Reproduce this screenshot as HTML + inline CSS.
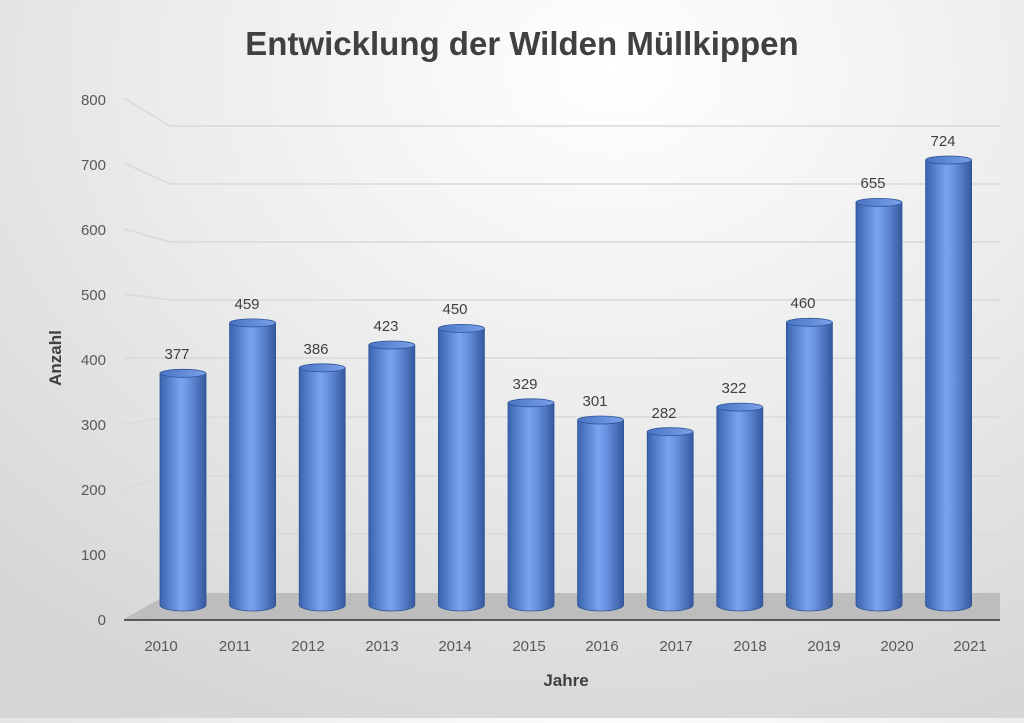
<!DOCTYPE html>
<html><head><meta charset="utf-8"><style>
html,body{margin:0;padding:0;}
body{width:1024px;height:718px;overflow:hidden;background:radial-gradient(ellipse 900px 700px at 60% 10%,#ffffff 0%,#eeeeee 45%,#d6d6d6 100%);font-family:"Liberation Sans",sans-serif;}
</style></head><body>
<svg width="1024" height="718" viewBox="0 0 1024 718" xmlns="http://www.w3.org/2000/svg" font-family="Liberation Sans, sans-serif">
<defs>
<linearGradient id="cyl" x1="0" x2="1" y1="0" y2="0">
<stop offset="0" stop-color="#3a63ad"/>
<stop offset="0.45" stop-color="#7aa3ef"/>
<stop offset="0.6" stop-color="#6b95e4"/>
<stop offset="1" stop-color="#36599e"/>
</linearGradient>
<linearGradient id="top" x1="0" x2="1"><stop offset="0" stop-color="#4a74c4"/><stop offset="1" stop-color="#7aa2ea"/></linearGradient>
<g id="c">
<path d="M-23,0 L-23,1 A23,6 0 0 0 23,1 L23,0 Z" fill="url(#cyl)"/>
</g>
</defs>
<text x="522" y="55" text-anchor="middle" font-size="33" font-weight="bold" fill="#404040">Entwicklung der Wilden Müllkippen</text>
<g stroke="#d9d9d9" stroke-width="1.5" fill="none">
<polyline points="124,98 170,126 1000,126"/>
<polyline points="124,163 170,184 1000,184"/>
<polyline points="124,229 170,242 1000,242"/>
<polyline points="124,294 170,300 1000,300"/>
<polyline points="124,358 170,358 1000,358"/>
<polyline points="124,424 170,417 1000,417"/>
<polyline points="124,489 170,476 1000,476"/>
<polyline points="124,554 170,534 1000,534"/>
</g>
<polygon points="124,619 170,593 1000,593 1000,619" fill="#bdbdbd"/>
<line x1="124" y1="620" x2="1000" y2="620" stroke="#595959" stroke-width="2"/>
<g font-size="15" fill="#595959" text-anchor="end">
<text x="106" y="105">800</text><text x="106" y="170">700</text><text x="106" y="235">600</text><text x="106" y="300">500</text><text x="106" y="365">400</text><text x="106" y="430">300</text><text x="106" y="495">200</text><text x="106" y="560">100</text><text x="106" y="625">0</text>
</g>
<text transform="translate(61,358) rotate(-90)" text-anchor="middle" font-size="17" font-weight="bold" fill="#404040">Anzahl</text>
<text x="566" y="686" text-anchor="middle" font-size="17" font-weight="bold" fill="#404040">Jahre</text>
<g font-size="15" fill="#595959" text-anchor="middle">
<text x="161" y="651">2010</text><text x="235" y="651">2011</text><text x="308" y="651">2012</text><text x="382" y="651">2013</text><text x="455" y="651">2014</text><text x="529" y="651">2015</text><text x="602" y="651">2016</text><text x="676" y="651">2017</text><text x="750" y="651">2018</text><text x="824" y="651">2019</text><text x="897" y="651">2020</text><text x="970" y="651">2021</text>
</g>
<g stroke="#2f5597" stroke-width="0.8">
<path d="M160,373.3 L160,605 A23,6 0 0 0 206,605 L206,373.3 Z" fill="url(#cyl)"/><ellipse cx="183" cy="373.3" rx="23" ry="4" fill="url(#top)"/>
<path d="M229.6,322.9 L229.6,605 A23,6 0 0 0 275.6,605 L275.6,322.9 Z" fill="url(#cyl)"/><ellipse cx="252.6" cy="322.9" rx="23" ry="4" fill="url(#top)"/>
<path d="M299.2,367.8 L299.2,605 A23,6 0 0 0 345.2,605 L345.2,367.8 Z" fill="url(#cyl)"/><ellipse cx="322.2" cy="367.8" rx="23" ry="4" fill="url(#top)"/>
<path d="M368.8,345 L368.8,605 A23,6 0 0 0 414.8,605 L414.8,345 Z" fill="url(#cyl)"/><ellipse cx="391.8" cy="345" rx="23" ry="4" fill="url(#top)"/>
<path d="M438.4,328.4 L438.4,605 A23,6 0 0 0 484.4,605 L484.4,328.4 Z" fill="url(#cyl)"/><ellipse cx="461.4" cy="328.4" rx="23" ry="4" fill="url(#top)"/>
<path d="M508,402.8 L508,605 A23,6 0 0 0 554,605 L554,402.8 Z" fill="url(#cyl)"/><ellipse cx="531" cy="402.8" rx="23" ry="4" fill="url(#top)"/>
<path d="M577.6,420 L577.6,605 A23,6 0 0 0 623.6,605 L623.6,420 Z" fill="url(#cyl)"/><ellipse cx="600.6" cy="420" rx="23" ry="4" fill="url(#top)"/>
<path d="M647.2,431.7 L647.2,605 A23,6 0 0 0 693.2,605 L693.2,431.7 Z" fill="url(#cyl)"/><ellipse cx="670.2" cy="431.7" rx="23" ry="4" fill="url(#top)"/>
<path d="M716.8,407.1 L716.8,605 A23,6 0 0 0 762.8,605 L762.8,407.1 Z" fill="url(#cyl)"/><ellipse cx="739.8" cy="407.1" rx="23" ry="4" fill="url(#top)"/>
<path d="M786.4,322.3 L786.4,605 A23,6 0 0 0 832.4,605 L832.4,322.3 Z" fill="url(#cyl)"/><ellipse cx="809.4" cy="322.3" rx="23" ry="4" fill="url(#top)"/>
<path d="M856,202.4 L856,605 A23,6 0 0 0 902,605 L902,202.4 Z" fill="url(#cyl)"/><ellipse cx="879" cy="202.4" rx="23" ry="4" fill="url(#top)"/>
<path d="M925.6,160 L925.6,605 A23,6 0 0 0 971.6,605 L971.6,160 Z" fill="url(#cyl)"/><ellipse cx="948.6" cy="160" rx="23" ry="4" fill="url(#top)"/>
</g>
<g font-size="15" fill="#404040" text-anchor="middle">
<text x="177" y="359">377</text><text x="247" y="309">459</text><text x="316" y="354">386</text><text x="386" y="331">423</text><text x="455" y="314">450</text><text x="525" y="389">329</text><text x="595" y="406">301</text><text x="664" y="418">282</text><text x="734" y="393">322</text><text x="803" y="308">460</text><text x="873" y="188">655</text><text x="943" y="146">724</text>
</g>
</svg>
</body></html>
